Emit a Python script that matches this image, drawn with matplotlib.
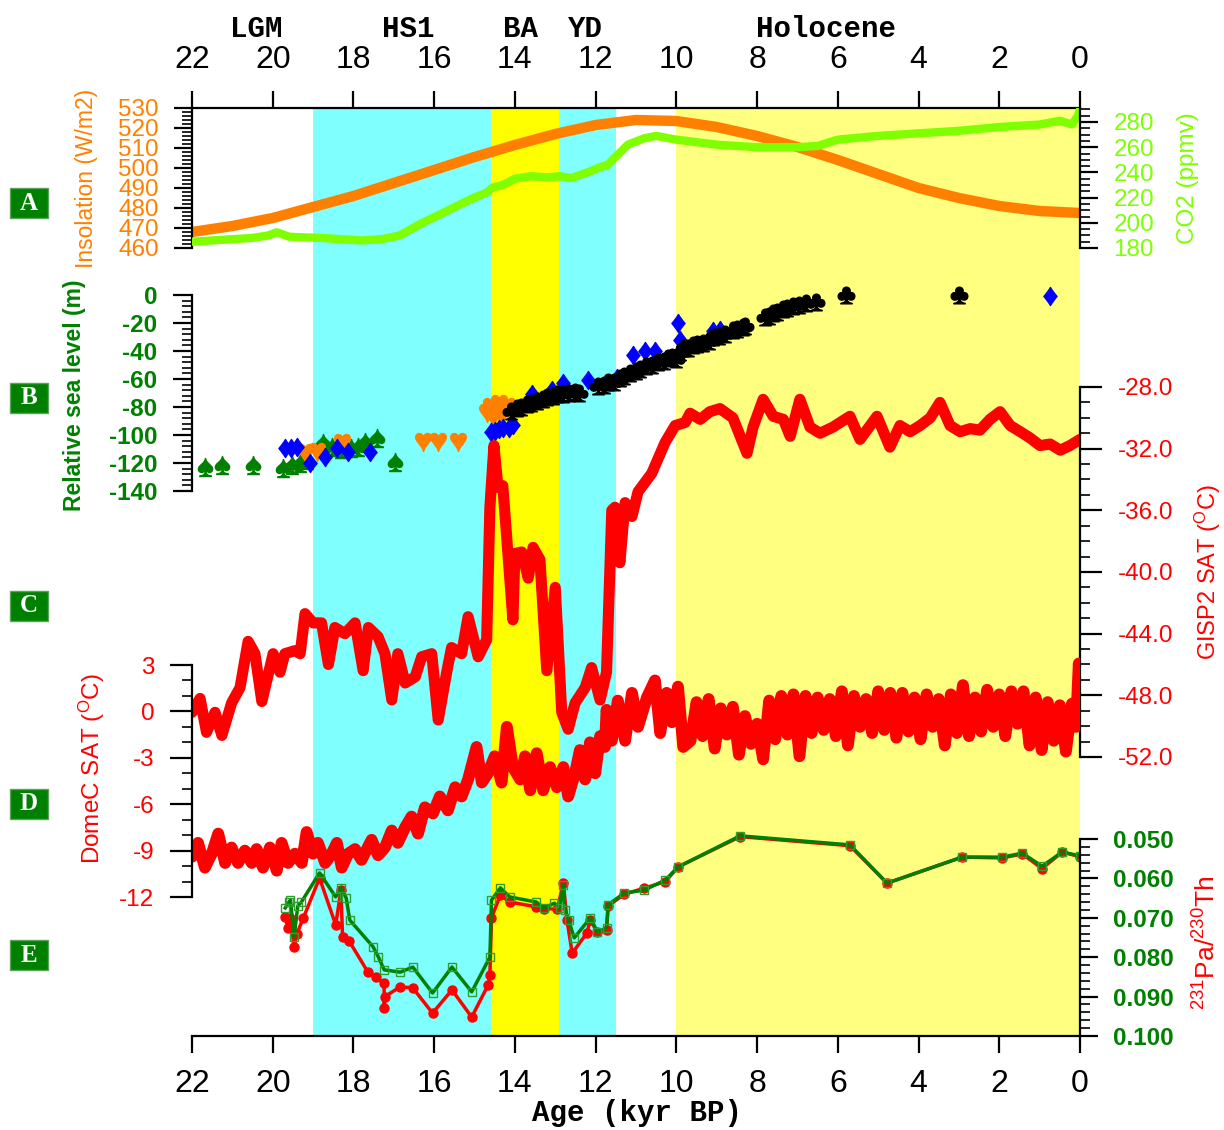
import numpy as np
import matplotlib
matplotlib.use("Agg")
import matplotlib.pyplot as plt
from matplotlib.ticker import FixedLocator, FormatStrFormatter
from matplotlib.patches import Rectangle

plt.rcParams['font.family'] = ['Liberation Sans', 'DejaVu Sans']
plt.rcParams['mathtext.fontset'] = 'custom'
plt.rcParams['mathtext.rm'] = 'Liberation Sans'
plt.rcParams['mathtext.it'] = 'Liberation Sans:italic'

# ---------------- data (kyr BP) ----------------
periods = ['LGM', 'HS1', 'BA', 'YD', 'Holocene']
period_x = [20.4, 16.65, 13.87, 12.24, 6.3]

# shaded intervals (start, end, colour)
spans = [(19.0, 14.6, '#80FFFF'), (14.6, 12.9, '#FFFF00'),
         (12.9, 11.5, '#80FFFF'), (10.0, 0.0, '#FFFF80')]

# A: insolation and CO2
ins_age = [22, 21, 20, 19, 18, 17, 16, 15, 14, 13, 12, 11, 10, 9, 8, 7, 6, 5, 4, 3, 2, 1, 0]
ins = [468, 471, 475, 480.5, 486, 492.5, 499, 505.5, 511.5, 517, 521.5, 524, 523.5,
       520.5, 516, 510.5, 504, 497, 490, 485, 481, 478.5, 477.5]

co2_age = [22, 21.5, 21, 20.5, 20.1, 19.9, 19.6, 19.3, 18.8, 18.3, 17.8, 17.3, 16.85,
           16.35, 15.9, 15.4, 15.0, 14.7, 14.55, 14.3, 14.0, 13.6, 13.2, 12.9, 12.6,
           12.2, 11.9, 11.7, 11.45, 11.2, 10.8, 10.5, 10.0, 9.5, 9.0, 8.0, 7.0, 6.5,
           6.0, 5.0, 4.0, 3.0, 2.0, 1.0, 0.5, 0.2, 0.05, 0.0]
co2 = [185, 186, 187, 188, 190, 192.5, 189, 188.5, 188, 187, 186, 187, 190, 199, 206,
       214, 220, 224, 228, 230, 235, 237, 236, 237, 235.5, 240, 244, 246, 254, 262,
       267, 269, 266, 264, 262, 260, 260, 261, 266, 269, 271, 273, 276, 278, 281,
       278, 285, 290]

# B: relative sea level (m)
sl_green_age = [21.68, 21.26, 20.49, 19.74, 19.53, 19.32, 19.15, 18.75, 18.54, 18.3,
                18.05, 17.89, 17.71, 17.42, 16.97]
sl_green = [-122.6, -121.4, -121.4, -123.6, -121.4, -120, -118, -106, -108.5, -110,
            -109, -108.5, -105, -102, -119]
sl_orange_age = [19.2, 18.91, 18.29, 16.27, 15.9, 15.41,
                 14.7, 14.6, 14.55, 14.5, 14.4, 14.35, 14.3, 14.2, 14.1]
sl_orange = [-113, -112, -106, -105, -105, -105,
             -84, -80, -87, -82, -78, -86, -83, -80, -85]
sl_blue_age = [19.7, 19.55, 19.41, 19.08, 18.7, 18.41, 18.13, 17.59,
               14.6, 14.5, 14.4, 14.3, 14.15, 14.05,
               13.58, 13.08, 12.81, 12.19, 11.47, 11.07, 10.78, 10.53,
               9.96, 9.91, 9.09, 8.92, 0.74]
sl_blue = [-109, -109, -108.5, -120, -115.5, -109, -112, -112,
           -98, -97, -96, -95, -95, -93,
           -71, -68, -63, -61, -59, -43, -40, -40,
           -20, -32, -26, -25, -1]
sl_black_age = [14.1, 13.95, 13.85, 13.7, 13.6, 13.45, 13.3, 13.2, 13.05, 12.95, 12.8,
                12.65, 12.5, 12.4, 11.95, 11.8, 11.7, 11.55, 11.4, 11.3, 11.15, 11.0,
                10.9, 10.75, 10.6, 10.45, 10.3, 10.2, 10.1, 10.0, 9.9, 9.8, 9.7, 9.6,
                9.5, 9.35, 9.2, 9.1, 8.95, 8.8, 8.6, 8.5, 8.35, 8.3, 7.8, 7.7, 7.6,
                7.5, 7.35, 7.25, 7.1, 6.95, 6.8, 6.55, 5.8, 3.0]
sl_black = [-83, -81, -80, -78, -77, -76, -74, -73, -72, -71, -71, -70, -69, -70, -65,
            -64, -62, -62, -59, -58, -56, -54, -53, -51, -50, -48, -47, -45, -44, -46,
            -41, -38, -38, -36, -35, -34, -33, -30, -29, -28, -25, -24, -23, -22, -16,
            -15, -13, -12, -10, -9, -8, -7, -6, -5, 0, 0]

# C: GISP2 surface air temperature (degC)
gisp_age = [22.0, 21.8, 21.64, 21.43, 21.26, 21.02, 20.81, 20.61, 20.44, 20.27, 19.99,
            19.82, 19.7, 19.45, 19.32, 19.2, 19.0, 18.79, 18.62, 18.46, 18.21, 17.96,
            17.76, 17.63, 17.39, 17.22, 17.05, 16.9, 16.72, 16.47, 16.31, 16.06, 15.9,
            15.69, 15.57, 15.32, 15.16, 14.91, 14.7, 14.62, 14.52, 14.42, 14.3, 14.05,
            14.0, 13.83, 13.67, 13.55, 13.38, 13.21, 13.0, 12.84, 12.68, 12.51, 12.26,
            12.1, 11.89, 11.73, 11.6, 11.52, 11.4, 11.27, 11.1, 10.95, 10.61, 10.28,
            10.03, 9.78, 9.66, 9.41, 9.17, 8.92, 8.6, 8.25, 8.1, 7.85, 7.6, 7.35, 7.18,
            6.94, 6.69, 6.44, 6.12, 5.7, 5.45, 5.03, 4.71, 4.46, 4.21, 3.96, 3.71, 3.47,
            3.22, 2.97, 2.72, 2.48, 2.23, 1.98, 1.73, 1.48, 1.24, 0.99, 0.74, 0.49,
            0.25, 0.0]
gisp = [-49.1, -48.2, -50.4, -49.1, -50.6, -48.5, -47.5, -44.5, -45.3, -48.4, -45.3,
        -46.5, -45.3, -45.1, -45.3, -42.7, -43.3, -43.3, -46.0, -43.6, -44.0, -43.3,
        -46.4, -43.6, -44.2, -45.3, -48.3, -45.3, -47.2, -46.8, -45.5, -45.3, -49.6,
        -46.5, -44.9, -45.3, -42.9, -45.5, -44.4, -35.8, -31.8, -34.5, -34.4, -43.1,
        -38.8, -38.7, -40.4, -38.4, -39.2, -46.4, -41.0, -49.1, -50.2, -48.5, -47.5,
        -46.2, -48.3, -46.5, -36.0, -35.8, -39.4, -35.5, -36.4, -34.8, -33.6, -31.6,
        -30.5, -30.3, -29.7, -30.1, -29.6, -29.4, -30.0, -32.3, -30.6, -28.8, -29.9,
        -30.1, -31.2, -28.8, -30.6, -31.0, -30.6, -29.9, -31.4, -29.9, -31.9, -30.5,
        -30.9, -30.5, -30.0, -29.0, -30.5, -30.9, -30.7, -30.8, -30.1, -29.6, -30.5,
        -30.9, -31.3, -31.8, -31.7, -32.1, -31.8, -31.4]

# D: EPICA Dome C surface air temperature anomaly (degC)
domec_age = [22.0, 21.85, 21.68, 21.51, 21.35, 21.18, 21.02, 20.86, 20.69, 20.52, 20.4,
             20.24, 20.07, 19.9, 19.78, 19.62, 19.45, 19.28, 19.16, 19.0, 18.88, 18.7,
             18.54, 18.41, 18.29, 18.13, 17.96, 17.8, 17.55, 17.39, 17.22, 17.05, 16.9,
             16.72, 16.56, 16.4, 16.23, 16.03, 15.86, 15.66, 15.48, 15.32, 15.16,
             14.95, 14.82, 14.67, 14.5, 14.33, 14.2, 14.05, 13.87, 13.75, 13.62, 13.46,
             13.3, 13.13, 12.96, 12.8, 12.68, 12.51, 12.39, 12.26, 12.14, 12.01, 11.89,
             11.77, 11.73, 11.6, 11.45, 11.27, 11.1, 10.95, 10.73, 10.53, 10.4, 10.24,
             10.11, 9.96, 9.83,
             9.65, 9.5, 9.35, 9.2, 9.05, 8.9, 8.75, 8.6, 8.45, 8.3, 8.15, 8.0, 7.85,
             7.7, 7.55, 7.4, 7.25, 7.1, 6.95, 6.8, 6.65, 6.5, 6.35, 6.2, 6.05, 5.9,
             5.75, 5.6, 5.45, 5.3, 5.15, 5.0, 4.85, 4.7, 4.55, 4.4, 4.25, 4.1, 3.95,
             3.8, 3.65, 3.5, 3.35, 3.2, 3.05, 2.9, 2.75, 2.6, 2.45, 2.3, 2.15, 2.0,
             1.85, 1.7, 1.55, 1.4, 1.25, 1.1, 0.95, 0.8, 0.65, 0.5, 0.35, 0.2, 0.1,
             0.03, 0.0]
domec = [-9.4, -8.5, -10.1, -9.2, -7.9, -9.8, -8.8, -9.8, -9.0, -9.8, -8.9, -10.1,
         -8.8, -10.3, -8.5, -9.8, -9.2, -9.8, -7.8, -9.2, -8.5, -9.8, -9.2, -8.5,
         -10.1, -9.2, -8.9, -9.6, -8.3, -9.3, -8.8, -7.7, -8.5, -7.5, -6.8, -7.9,
         -6.2, -6.6, -5.5, -6.4, -4.9, -5.5, -4.4, -2.3, -4.6, -4.0, -2.9, -4.6,
         -1.0, -3.6, -4.4, -2.9, -5.1, -2.7, -5.1, -3.6, -4.9, -3.6, -5.5, -4.0,
         -2.5, -4.4, -2.0, -4.0, -1.6, -2.3, 0.1, -1.9, 0.7, -1.9, 1.2, -1.0, 0.9,
         2.0, -1.4, 1.2, -0.7, 1.6, -2.3,
         -1.9, 0.6, -1.6, 0.8, -2.4, 0.2, -1.5, 0.3, -2.8, -0.3, -2.1, -0.8, -3.1,
         0.7, -1.8, 1.0, -1.5, 1.1, -2.9, 1.0, -1.4, 0.9, -1.2, 0.8, -1.6, 1.3,
         -2.2, 1.0, -1.0, 0.8, -1.4, 1.3, -1.2, 1.2, -1.7, 1.2, -1.3, 0.9, -1.8,
         1.1, -1.0, 0.8, -2.2, 1.1, -1.4, 1.7, -1.6, 0.9, -1.3, 1.4, -1.0, 1.1,
         -1.6, 1.3, -0.8, 1.3, -2.2, 0.9, -2.5, 0.6, -1.9, 0.4, -2.6, 0.5, -1.0,
         3.1, 1.5]

# E: 231Pa/230Th
pa_green_age = [19.69, 19.6, 19.56, 19.47, 19.38, 19.29, 18.84, 18.44, 18.31, 18.18,
                18.09, 17.51, 17.38, 17.24, 16.84, 16.53, 16.04, 15.56, 15.07, 14.62,
                14.58, 14.36, 14.13, 13.47, 13.29, 13.02, 12.89, 12.8, 12.76, 12.67,
                12.53, 12.13, 11.96, 11.73, 11.69, 11.29, 10.8, 10.27, 9.96, 8.42, 5.7,
                4.78, 2.92, 1.93, 1.43, 0.94, 0.44, 0.0]
pa_green = [0.0675, 0.066, 0.0655, 0.0749, 0.067, 0.066, 0.0586, 0.0647, 0.0624,
            0.065, 0.0706, 0.0774, 0.08, 0.0832, 0.0838, 0.0825, 0.0891, 0.0825,
            0.0888, 0.08, 0.0655, 0.0624, 0.0647, 0.066, 0.0675, 0.0663, 0.0675,
            0.0617, 0.068, 0.0706, 0.0751, 0.07, 0.0736, 0.0726, 0.0667, 0.0637,
            0.063, 0.0604, 0.0571, 0.0492, 0.0515, 0.0612, 0.0546, 0.0546, 0.0536,
            0.0569, 0.0533, 0.0543]
pa_red_age = [19.69, 19.62, 19.56, 19.47, 19.4, 19.24, 18.84, 18.44, 18.31, 18.27,
              18.1, 17.64, 17.45, 17.24, 17.24, 17.22, 16.84, 16.53, 16.04, 15.56,
              15.07, 14.66, 14.62, 14.58, 14.36, 14.13, 13.47, 13.29, 12.95, 12.8,
              12.71, 12.58, 12.22, 12.13, 11.96, 11.73, 11.69, 11.29, 10.8, 10.27,
              9.96, 8.42, 5.7, 4.78, 2.92, 1.93, 1.43, 0.94, 0.44, 0.0]
pa_red = [0.0698, 0.0726, 0.07, 0.0774, 0.074, 0.07, 0.0599, 0.0718, 0.063, 0.0749,
          0.076, 0.0838, 0.085, 0.0866, 0.093, 0.09, 0.0875, 0.0878, 0.0942, 0.0883,
          0.0952, 0.087, 0.0845, 0.07, 0.0642, 0.066, 0.0672, 0.0677, 0.0677, 0.0612,
          0.0706, 0.079, 0.0739, 0.0706, 0.0736, 0.0731, 0.067, 0.064, 0.0625,
          0.0608, 0.0571, 0.0494, 0.0517, 0.0612, 0.0546, 0.0548, 0.0538, 0.0575,
          0.0533, 0.0545]

# ---------------- layout (pixels of a 1224x1130 canvas) ----------------
W, H = 1224, 1130
L, R, T, B = 192, 1080, 108, 1036


def ylimits(v1, y1, v2, y2):
    # value v1 sits at pixel row y1, v2 at y2 -> limits of a full-height axes
    k = (v2 - v1) / (y2 - y1)
    return v1 + k * (B - y1), v1 + k * (T - y1)


fig = plt.figure(figsize=(W / 100, H / 100), dpi=100)
rect = [L / W, 1 - B / H, (R - L) / W, (B - T) / H]

ax = fig.add_axes(rect)
ax.set_xlim(22, 0)
ax.set_ylim(0, 1)
for x0, x1, c in spans:
    ax.axvspan(x0, x1, color=c, lw=0)
ax.spines['left'].set_visible(False)
ax.spines['right'].set_visible(False)
for s in ('top', 'bottom'):
    ax.spines[s].set_linewidth(1.6)
ax.set_yticks([])
ax.set_xticks(range(0, 23, 2))
ax.tick_params(axis='x', top=True, labeltop=True, direction='out', length=12,
               width=1.6, pad=12, labelsize=23)


def panel(side, lims, lo, hi, major, minor, color, fmt='%g', bold=False, length=13):
    a = fig.add_axes(rect, facecolor='none')
    a.set_xlim(22, 0)
    a.set_ylim(*lims)
    for s in a.spines.values():
        s.set_visible(False)
    a.spines[side].set_visible(True)
    a.spines[side].set_bounds(lo, hi)
    a.spines[side].set_linewidth(1.6)
    a.set_xticks([])
    a.yaxis.set_ticks_position(side)
    a.yaxis.set_major_locator(FixedLocator(np.arange(lo, hi + minor / 2, major)))
    a.yaxis.set_minor_locator(FixedLocator(np.arange(lo, hi + minor / 2, minor)))
    a.yaxis.set_major_formatter(FormatStrFormatter(fmt))
    a.tick_params(axis='y', which='major', direction='out', length=length, width=1.6,
                  labelcolor=color, labelsize=17.5, pad=11)
    a.tick_params(axis='y', which='minor', direction='out', length=7, width=1.2)
    if bold:
        for lab in a.get_yticklabels():
            lab.set_fontweight('bold')
    return a


orange = '#FF8000'
lime = '#7FFF00'
dgreen = '#008000'
red = '#FF0000'

# A
a_ins = panel('left', ylimits(460, 248, 530, 108), 460, 530, 10, 2, orange)
a_ins.plot(ins_age, ins, color=orange, lw=7.5, solid_capstyle='butt')
a_co2 = panel('right', ylimits(180, 248, 280, 122), 180, 291, 20, 5, lime)
a_co2.set_yticks(np.arange(180, 281, 20))
a_co2.plot(co2_age, co2, color=lime, lw=6)

# B
a_sl = panel('left', ylimits(0, 295, -140, 491), -140, 0, 20, 4, dgreen, bold=True,
             length=14)
a_sl.plot(sl_green_age, sl_green, ls='none', marker='$\u2660$', ms=13, color=dgreen)
a_sl.plot(sl_orange_age, sl_orange, ls='none', marker='$\u2665$', ms=13, color=orange)
a_sl.plot(sl_blue_age, sl_blue, ls='none', marker='$\u2666$', ms=13, color='#0000FF')
a_sl.plot(sl_black_age, sl_black, ls='none', marker='$\u2663$', ms=12, color='black')

# C
a_g = panel('right', ylimits(-28, 387, -52, 757), -52, -28, 4, 1, red, fmt='%.1f',
            length=16)
a_g.plot(gisp_age, gisp, color=red, lw=8, solid_joinstyle='round',
         solid_capstyle='round')

# D
a_d = panel('left', ylimits(3, 665, -12, 897), -12, 3, 3, 1, red, length=16)
a_d.plot(domec_age, domec, color=red, lw=8.5, solid_joinstyle='round',
         solid_capstyle='round')

# E
a_p = panel('right', ylimits(0.05, 839, 0.10, 1036), 0.05, 0.10, 0.01, 0.002, dgreen,
            fmt='%.3f', bold=True)
a_p.plot(pa_red_age, pa_red, color=red, lw=2.5, marker='o', ms=6.5, mec=red, mfc=red)
a_p.plot(pa_green_age, pa_green, color=dgreen, lw=2.5, marker='s', ms=6,
         mfc='none', mec='#2E9E2E', mew=1)

# ---------------- texts ----------------
def fx(px):
    return px / W


def fy(py):
    return 1 - py / H


for name, xk in zip(periods, period_x):
    xp = L + (22 - xk) / 22 * (R - L)
    fig.text(fx(xp), fy(29), name, family='Liberation Mono', weight='bold',
             fontsize=21, ha='center', va='center')
fig.text(fx(637), fy(1113), 'Age (kyr BP)', family='Liberation Mono', weight='bold',
         fontsize=21, ha='center', va='center')

fig.text(fx(86), fy(178), 'Insolation (W/m2)', color=orange, fontsize=16.5,
         rotation=90, ha='center', va='center')
fig.text(fx(1188), fy(178), 'CO2 (ppmv)', color=lime, fontsize=17.5,
         rotation=90, ha='center', va='center')
fig.text(fx(75), fy(395), 'Relative sea level (m)', color=dgreen, fontsize=16.5,
         weight='bold', rotation=90, ha='center', va='center')
fig.text(fx(1208), fy(572), 'GISP2 SAT ($^{\\rm O}$C)', color=red, fontsize=17,
         rotation=90, ha='center', va='center')
fig.text(fx(92), fy(768), 'DomeC SAT ($^{\\rm O}$C)', color=red, fontsize=17.5,
         rotation=90, ha='center', va='center')
fig.text(fx(1207), fy(943), '$^{231}$Pa/$^{230}$Th', color=red, fontsize=19,
         rotation=90, ha='center', va='center')

letters = ['A', 'B', 'C', 'D', 'E']
letter_y = [203, 398, 606, 804, 955]
for let, yp in zip(letters, letter_y):
    fig.patches.append(Rectangle((fx(10), fy(yp + 15)), 38 / W, 30 / H,
                                 transform=fig.transFigure, fc=dgreen,
                                 ec='#5aa55a', lw=1))
    fig.text(fx(29), fy(yp), let, color='white', family='Liberation Serif',
             weight='bold', fontsize=18, ha='center', va='center')

fig.savefig('out.png', dpi=100)
